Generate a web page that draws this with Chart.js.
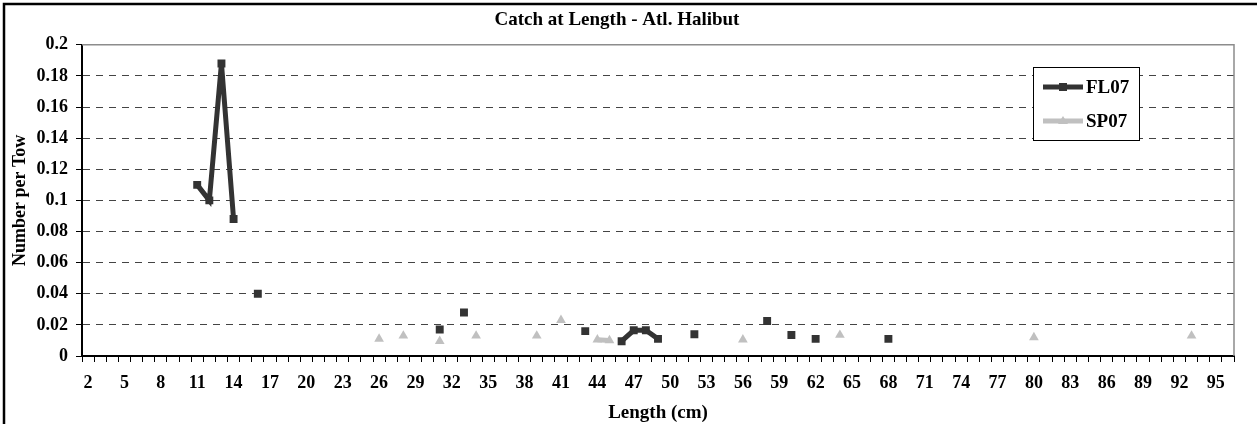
<!DOCTYPE html>
<html>
<head>
<meta charset="utf-8">
<script src="https://cdn.jsdelivr.net/npm/chart.js@4"></script>
<style>
  html, body { margin: 0; padding: 0; background: #fff; }
  #wrap { width: 1257px; height: 424px; }
</style>
</head>
<body>
<div id="wrap"><canvas id="chart" width="1257" height="424"></canvas></div>
<script>
// Categories (Length, cm)
const lengths = [2, 3, 4, 5, 6, 7, 8, 9, 10, 11, 12, 13, 14, 15, 16, 17, 18, 19, 20, 21,
  22, 23, 24, 25, 26, 27, 28, 29, 30, 31, 32, 33, 34, 35, 36, 37, 38, 39, 40, 41,
  42, 43, 44, 45, 46, 47, 48, 49, 50, 51, 52, 53, 54, 55, 56, 57, 58, 59, 60, 61,
  62, 63, 64, 65, 66, 67, 68, 69, 70, 71, 72, 73, 74, 75, 76, 77, 78, 79, 80, 81,
  82, 83, 84, 85, 86, 87, 88, 89, 90, 91, 92, 93, 94, 95, 96];

// FL07 series
const fl07Lengths = [11, 12, 13, 14, 16, 31, 33, 43, 46, 47, 48, 49, 52, 58, 60, 62, 68];
const fl07Values = [0.110, 0.100, 0.188, 0.088, 0.040, 0.017, 0.028, 0.016, 0.0095, 0.0165, 0.0165, 0.011, 0.014, 0.0225, 0.0135, 0.011, 0.011];

// SP07 series
const sp07Lengths = [26, 28, 31, 34, 39, 41, 44, 45, 56, 64, 80, 93];
const sp07Values = [0.011, 0.013, 0.0095, 0.013, 0.013, 0.023, 0.0105, 0.010, 0.0105, 0.0135, 0.012, 0.013];

// y ticks
const yMin = 0, yMax = 0.2, yStep = 0.02;

function toSeries(lens, vals) {
  return lengths.map(l => {
    const i = lens.indexOf(l);
    return i < 0 ? null : vals[i];
  });
}

const serif = '"Liberation Serif", "Times New Roman", serif';

// outer frame + plot border
const framePlugin = {
  id: 'frame',
  beforeDraw(chart) {
    const c = chart.ctx;
    c.save();
    c.fillStyle = '#fff';
    c.fillRect(0, 0, chart.width, chart.height);
    c.strokeStyle = '#000';
    c.lineWidth = 2.5;
    c.beginPath();
    c.moveTo(4, chart.height + 5);
    c.lineTo(4, 4);
    c.lineTo(chart.width + 5, 4);
    c.stroke();
    c.restore();
  },
  beforeDatasetsDraw(chart) {
    const { ctx: c, chartArea: a } = chart;
    c.save();
    c.strokeStyle = '#8c8c8c';
    c.lineWidth = 1.5;
    c.beginPath();
    c.moveTo(a.left, a.top);
    c.lineTo(a.right, a.top);
    c.lineTo(a.right, a.bottom);
    c.stroke();
    c.restore();
  }
};

// legend box inside the plot
const legendBox = {
  id: 'legendBox',
  afterDraw(chart) {
    const c = chart.ctx;
    const x = 1033, y = 67, w = 106, h = 73;
    c.save();
    c.fillStyle = '#fff';
    c.fillRect(x, y, w, h);
    c.strokeStyle = '#000';
    c.lineWidth = 1;
    c.strokeRect(x + 0.5, y + 0.5, w, h);
    chart.data.datasets.forEach((ds, i) => {
      const ly = y + 20 + i * 34;
      c.strokeStyle = ds.borderColor;
      c.lineWidth = 5;
      c.beginPath();
      c.moveTo(x + 10, ly);
      c.lineTo(x + 50, ly);
      c.stroke();
      c.fillStyle = ds.borderColor;
      if (ds.pointStyle === 'rect') {
        c.fillRect(x + 26, ly - 4, 8, 8);
      } else {
        c.beginPath();
        c.moveTo(x + 30, ly - 5);
        c.lineTo(x + 35, ly + 3);
        c.lineTo(x + 25, ly + 3);
        c.closePath();
        c.fill();
      }
      c.fillStyle = '#000';
      c.font = 'bold 19px ' + serif;
      c.textBaseline = 'middle';
      c.textAlign = 'left';
      c.fillText(ds.label, x + 53, ly + 1);
    });
    c.restore();
  }
};

new Chart(document.getElementById('chart'), {
  type: 'line',
  data: {
    labels: lengths.map(String),
    datasets: [{
      label: 'FL07',
      data: toSeries(fl07Lengths, fl07Values),
      borderColor: '#333333',
      backgroundColor: '#333333',
      borderWidth: 5,
      pointStyle: 'rect',
      pointRadius: 5.6,
      pointBorderWidth: 0,
      spanGaps: false,
      tension: 0
    }, {
      label: 'SP07',
      data: toSeries(sp07Lengths, sp07Values),
      borderColor: '#c0c0c0',
      backgroundColor: '#c0c0c0',
      borderWidth: 5,
      pointStyle: 'triangle',
      pointRadius: 5.6,
      pointBorderWidth: 0,
      spanGaps: false,
      tension: 0
    }]
  },
  options: {
    responsive: false,
    animation: false,
    events: [],
    layout: { padding: { left: 0, right: 23, top: 0, bottom: 0 } },
    plugins: {
      legend: { display: false },
      tooltip: { enabled: false },
      title: {
        display: true,
        text: 'Catch at Length - Atl. Halibut',
        color: '#000',
        font: { family: serif, size: 19, weight: 'bold' },
        padding: { top: 9, bottom: 13 }
      }
    },
    scales: {
      x: {
        type: 'category',
        offset: true,
        afterFit: s => { s.height = 68; },
        grid: {
          offset: true,
          drawOnChartArea: false,
          tickLength: 6,
          tickColor: '#000',
          tickWidth: 1
        },
        border: { color: '#000', width: 2 },
        ticks: {
          autoSkip: false,
          maxRotation: 0,
          padding: 11,
          color: '#000',
          font: { family: serif, size: 18, weight: 'bold' },
          callback: function (v, i) { return i % 3 === 0 ? this.getLabelForValue(v) : ''; }
        },
        title: {
          display: true,
          text: 'Length (cm)',
          color: '#000',
          font: { family: serif, size: 19, weight: 'bold' },
          padding: { top: 0, bottom: 0 }
        }
      },
      y: {
        min: yMin,
        max: yMax,
        afterFit: s => { s.width = 82; },
        grid: {
          color: '#444',
          lineWidth: 1,
          tickLength: 6,
          tickColor: '#000',
          tickWidth: 1
        },
        border: { color: '#000', width: 2, dash: [7, 6] },
        ticks: {
          stepSize: yStep,
          padding: 8,
          color: '#000',
          font: { family: serif, size: 18, weight: 'bold' },
          callback: v => String(+v.toFixed(2))
        },
        title: {
          display: true,
          text: 'Number per Tow',
          color: '#000',
          font: { family: serif, size: 18, weight: 'bold' },
          padding: { top: 10, bottom: 0 }
        }
      }
    }
  },
  plugins: [framePlugin, legendBox]
});
</script>
</body>
</html>
